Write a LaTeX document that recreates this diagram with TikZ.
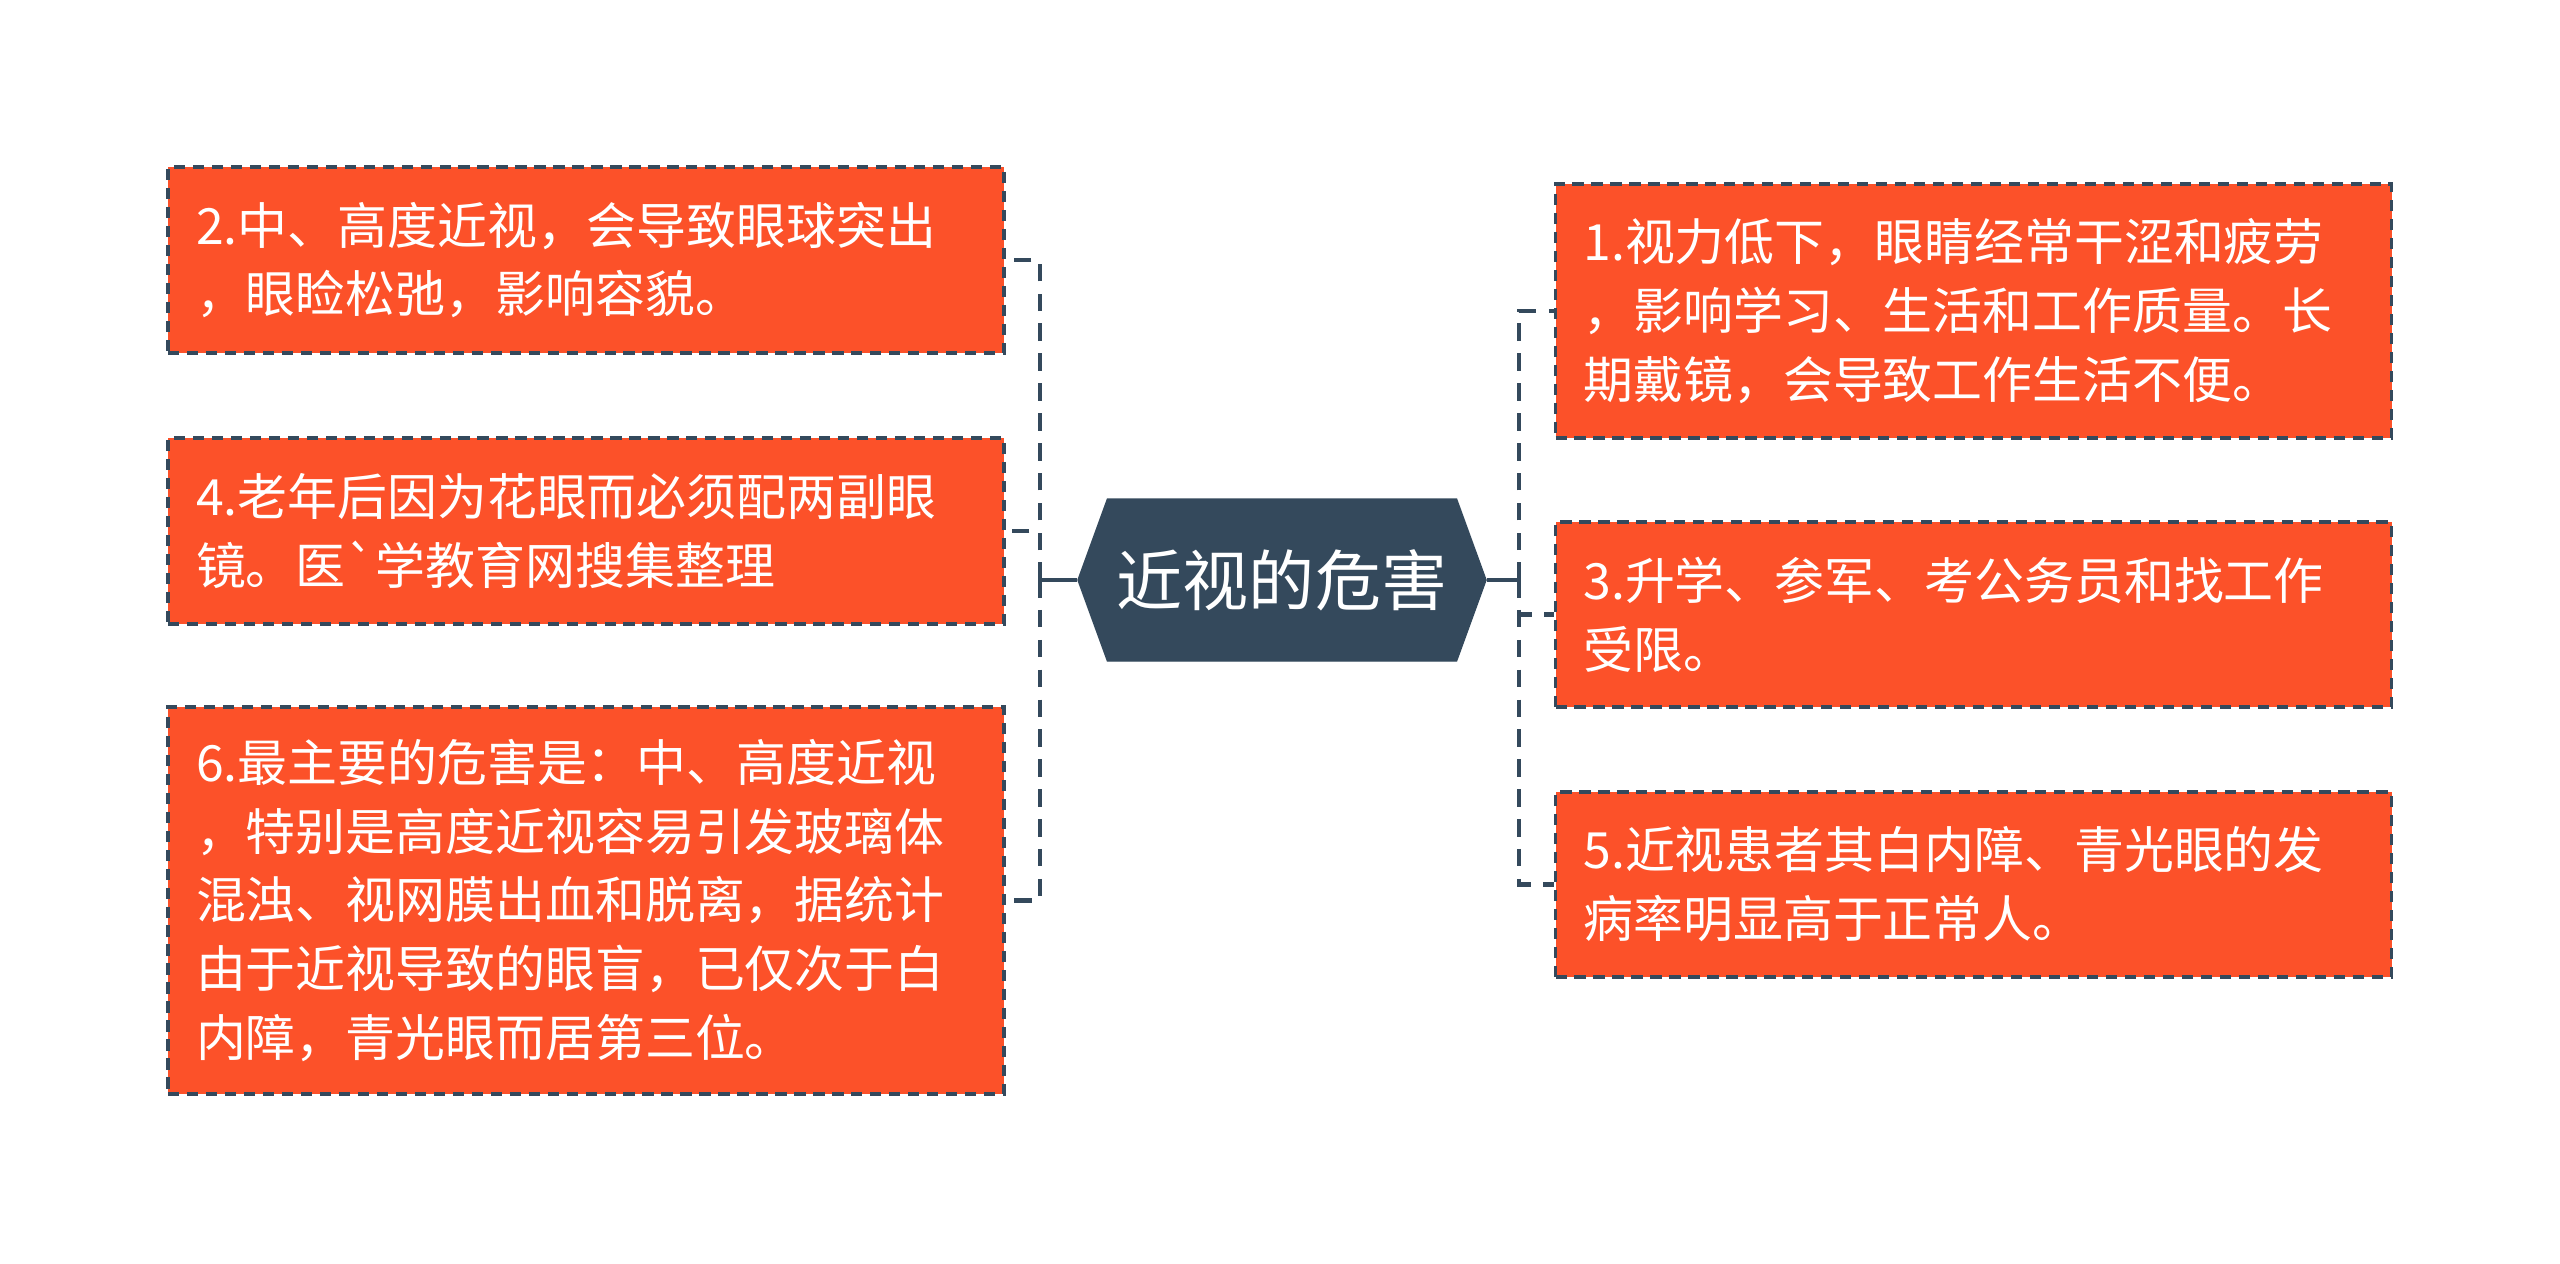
\documentclass[tikz,border=0pt]{standalone}
\usepackage{fontspec}
\setmainfont{Noto Sans CJK SC}
\newfontfamily\rawcjk{Noto Sans CJK SC}
\usetikzlibrary{shapes.symbols}

\definecolor{boxfill}{HTML}{FC5129}
\definecolor{slate}{HTML}{34495C}

\begin{document}
\begin{tikzpicture}[
		topic/.style={signal, signal to=west and east, signal pointer angle=140, fill=slate, draw=slate, text=white,
			minimum width=4.08cm, minimum height=1.62cm, inner sep=0pt, font=\fontsize{18.8pt}{22pt}\selectfont},
		item/.style={draw=slate, line width=1pt, dash pattern=on 3.2pt off 2.2pt, fill=boxfill, text=white,
			text width=7.8cm, align=left, inner xsep=0.28cm, inner ysep=0pt, font=\fontsize{14.2pt}{19.6pt}\selectfont},
		link/.style={draw=slate, line width=1.4pt, dash pattern=on 5pt off 3.5pt},
		stem/.style={draw=slate, line width=1.4pt}
	]
	\useasboundingbox (0,0) rectangle (25.6,-12.63);

	\node[topic] (root) at (12.82,-5.80) {近视的危害};

	% left side
	\node[item, minimum height=1.86cm] (n2) at (5.86,-2.60) {2.中、高度近视，会导致眼球突出\\，眼睑松弛，影响容貌。};
	\node[item, minimum height=1.86cm] (n4) at (5.86,-5.31) {4.老年后因为花眼而必须配两副眼\\镜。医{\rawcjk `}学教育网搜集整理};
	\node[item, minimum height=3.87cm] (n6) at (5.86,-9.005) {6.最主要的危害是：中、高度近视\\，特别是高度近视容易引发玻璃体\\混浊、视网膜出血和脱离，据统计\\由于近视导致的眼盲，已仅次于白\\内障，青光眼而居第三位。};

	% right side
	\node[item, minimum height=2.54cm] (n1) at (19.735,-3.11) {1.视力低下，眼睛经常干涩和疲劳\\，影响学习、生活和工作质量。长\\期戴镜，会导致工作生活不便。};
	\node[item, minimum height=1.85cm] (n3) at (19.735,-6.145) {3.升学、参军、考公务员和找工作\\受限。};
	\node[item, minimum height=1.85cm] (n5) at (19.735,-8.845) {5.近视患者其白内障、青光眼的发\\病率明显高于正常人。};

	\coordinate (lj) at (10.40,-5.80);
	\coordinate (rj) at (15.19,-5.80);

	\draw[stem] (root.west) -- (lj);
	\draw[stem] (root.east) -- (rj);
	\foreach \n in {n2,n4,n6}
		\draw[link] (lj) |- (\n.east);
	\foreach \n in {n1,n3,n5}
		\draw[link] (rj) |- (\n.west);
\end{tikzpicture}
\end{document}
